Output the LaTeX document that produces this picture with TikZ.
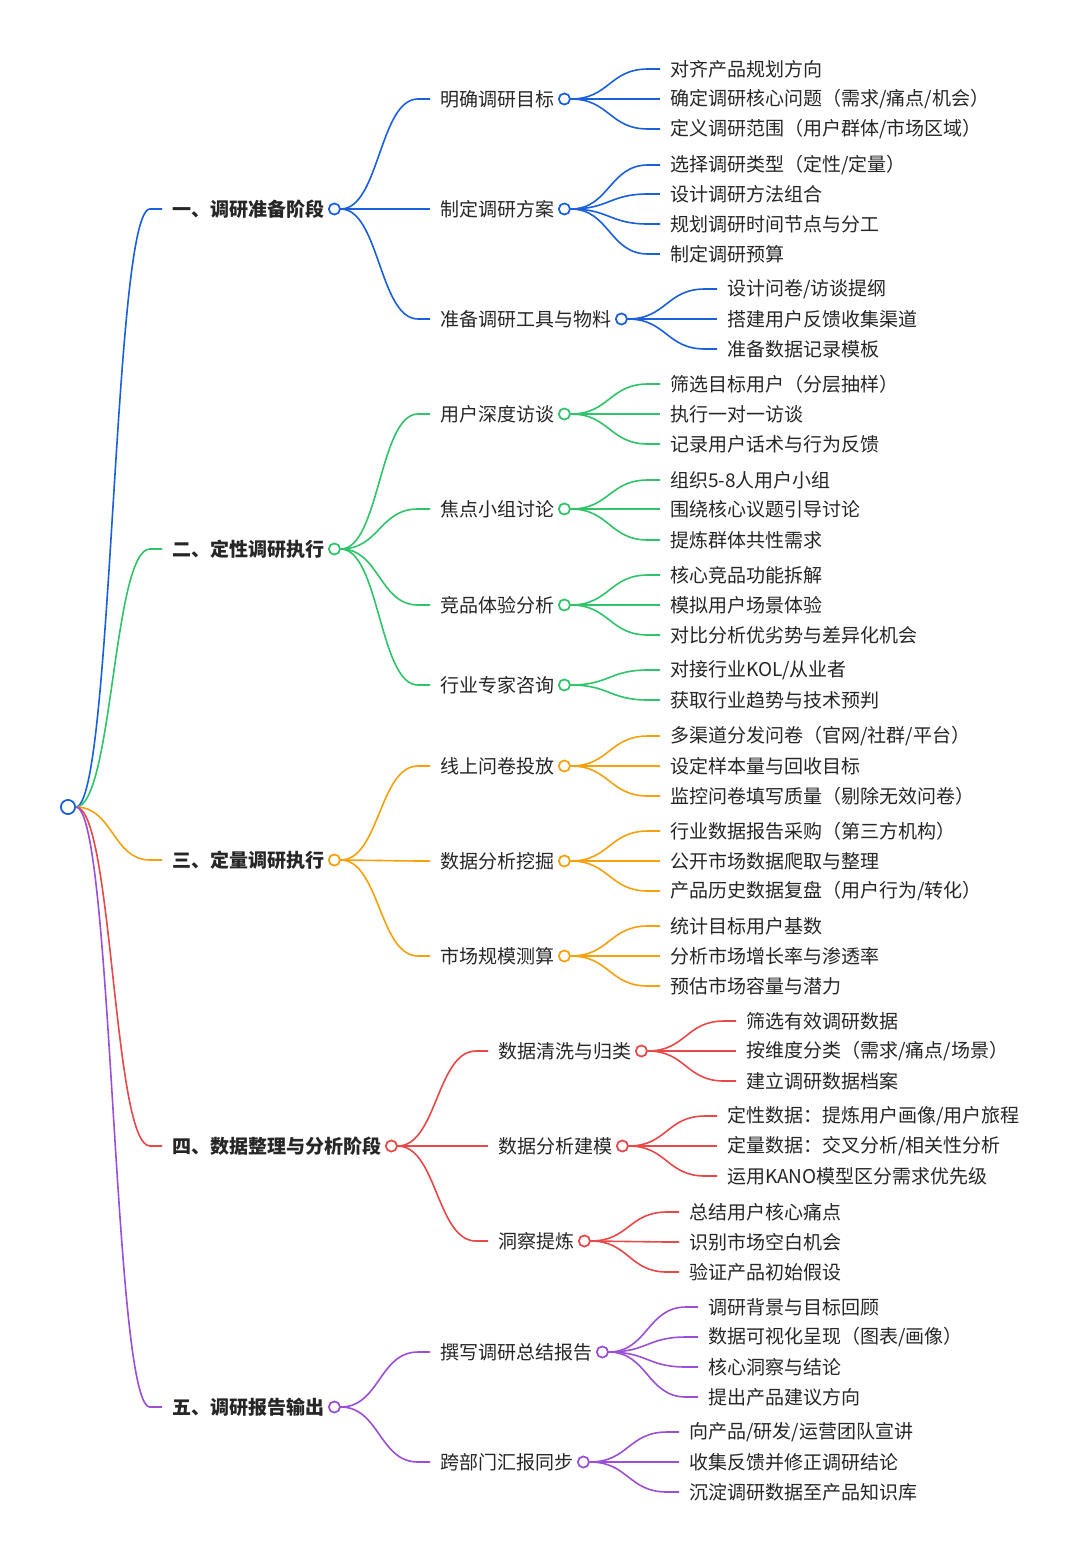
\documentclass[tikz,border=0pt]{standalone}
\usepackage{fontspec}
\setmainfont{Noto Sans CJK SC}
\usetikzlibrary{calc}
\definecolor{cb}{HTML}{1A5FDC}
\definecolor{cg}{HTML}{2FC46A}
\definecolor{co}{HTML}{F5A10C}
\definecolor{cr}{HTML}{E84848}
\definecolor{cp}{HTML}{9A4FD6}
\tikzset{txt/.style={inner sep=0pt,anchor=west,font=\fontsize{19}{21}\selectfont,text=black!85},
 dot/.style={circle,inner sep=0pt,minimum size=11pt,line width=1.6pt,fill=white},
 lnk/.style={line width=1.6pt}}
\newcommand\mmn[6]{\node[txt,font=\fontsize{19}{21}\selectfont#6] (#1) at (#2,#3) {#4};
 \node[dot,draw=#5] (#1c) at ([xshift=10pt]#1.east) {};}
\newcommand\mml[4]{\node[txt] (#1) at (#2,#3) {#4};}
\newcommand\mme[3]{\draw[lnk,#3] let \p1=(#1.east),\p2=(#2.west) in (\p1) .. controls ({0.5*\x1+0.5*\x2-11pt},\y1) and ({0.5*\x1+0.5*\x2-11pt},\y2) .. ({\x2-22pt},\y2) -- ({\x2-10pt},\y2);}
\begin{document}
\begin{tikzpicture}[x=1pt,y=-1pt]
\useasboundingbox (0,0) rectangle (1080,1561);
\fill[white] (0,0) rectangle (1080,1561);
% level 1
\mmn{a}{172}{209}{一、调研准备阶段}{cb}{\bfseries}
\mmn{b}{172}{549}{二、定性调研执行}{cg}{\bfseries}
\mmn{c}{172}{860}{三、定量调研执行}{co}{\bfseries}
\mmn{d}{172}{1146}{四、数据整理与分析阶段}{cr}{\bfseries}
\mmn{e}{172}{1407}{五、调研报告输出}{cp}{\bfseries}
% level 2
\mmn{a1}{440}{99}{明确调研目标}{cb}{}
\mmn{a2}{440}{209}{制定调研方案}{cb}{}
\mmn{a3}{440}{319}{准备调研工具与物料}{cb}{}
\mmn{b1}{440}{414}{用户深度访谈}{cg}{}
\mmn{b2}{440}{509}{焦点小组讨论}{cg}{}
\mmn{b3}{440}{605}{竞品体验分析}{cg}{}
\mmn{b4}{440}{685}{行业专家咨询}{cg}{}
\mmn{c1}{440}{766}{线上问卷投放}{co}{}
\mmn{c2}{440}{861}{数据分析挖掘}{co}{}
\mmn{c3}{440}{956}{市场规模测算}{co}{}
\mmn{d1}{498}{1051}{数据清洗与归类}{cr}{}
\mmn{d2}{498}{1146}{数据分析建模}{cr}{}
\mmn{d3}{498}{1241}{洞察提炼}{cr}{}
\mmn{e1}{440}{1352}{撰写调研总结报告}{cp}{}
\mmn{e2}{440}{1462}{跨部门汇报同步}{cp}{}
% leaves
\mml{a11}{670}{69}{对齐产品规划方向}
\mml{a12}{670}{99}{确定调研核心问题（需求/痛点/机会）}
\mml{a13}{670}{129}{定义调研范围（用户群体/市场区域）}
\mml{a21}{670}{165}{选择调研类型（定性/定量）}
\mml{a22}{670}{194}{设计调研方法组合}
\mml{a23}{670}{224}{规划调研时间节点与分工}
\mml{a24}{670}{254}{制定调研预算}
\mml{a31}{727}{289}{设计问卷/访谈提纲}
\mml{a32}{727}{319}{搭建用户反馈收集渠道}
\mml{a33}{727}{349}{准备数据记录模板}
\mml{b11}{670}{384}{筛选目标用户（分层抽样）}
\mml{b12}{670}{414}{执行一对一访谈}
\mml{b13}{670}{444}{记录用户话术与行为反馈}
\mml{b21}{670}{480}{组织5-8人用户小组}
\mml{b22}{670}{509}{围绕核心议题引导讨论}
\mml{b23}{670}{540}{提炼群体共性需求}
\mml{b31}{670}{575}{核心竞品功能拆解}
\mml{b32}{670}{605}{模拟用户场景体验}
\mml{b33}{670}{635}{对比分析优劣势与差异化机会}
\mml{b41}{670}{670}{对接行业KOL/从业者}
\mml{b42}{670}{700}{获取行业趋势与技术预判}
\mml{c11}{670}{736}{多渠道分发问卷（官网/社群/平台）}
\mml{c12}{670}{766}{设定样本量与回收目标}
\mml{c13}{670}{796}{监控问卷填写质量（剔除无效问卷）}
\mml{c21}{670}{831}{行业数据报告采购（第三方机构）}
\mml{c22}{670}{861}{公开市场数据爬取与整理}
\mml{c23}{670}{891}{产品历史数据复盘（用户行为/转化）}
\mml{c31}{670}{926}{统计目标用户基数}
\mml{c32}{670}{956}{分析市场增长率与渗透率}
\mml{c33}{670}{986}{预估市场容量与潜力}
\mml{d11}{746}{1021}{筛选有效调研数据}
\mml{d12}{746}{1051}{按维度分类（需求/痛点/场景）}
\mml{d13}{746}{1081}{建立调研数据档案}
\mml{d21}{727}{1116}{定性数据：提炼用户画像/用户旅程}
\mml{d22}{727}{1146}{定量数据：交叉分析/相关性分析}
\mml{d23}{727}{1176}{运用KANO模型区分需求优先级}
\mml{d31}{689}{1212}{总结用户核心痛点}
\mml{d32}{689}{1242}{识别市场空白机会}
\mml{d33}{689}{1272}{验证产品初始假设}
\mml{e11}{708}{1307}{调研背景与目标回顾}
\mml{e12}{708}{1337}{数据可视化呈现（图表/画像）}
\mml{e13}{708}{1367}{核心洞察与结论}
\mml{e14}{708}{1397}{提出产品建议方向}
\mml{e21}{689}{1432}{向产品/研发/运营团队宣讲}
\mml{e22}{689}{1462}{收集反馈并修正调研结论}
\mml{e23}{689}{1492}{沉淀调研数据至产品知识库}
% root
\node[dot,minimum size=14pt,draw=cb] (r) at (68,807) {};
\mme{r}{a}{cb}\mme{r}{b}{cg}\mme{r}{c}{co}\mme{r}{d}{cr}\mme{r}{e}{cp}
\foreach \k in {a1,a2,a3}{\mme{ac}{\k}{cb}}
\foreach \k in {b1,b2,b3,b4}{\mme{bc}{\k}{cg}}
\foreach \k in {c1,c2,c3}{\mme{cc}{\k}{co}}
\foreach \k in {d1,d2,d3}{\mme{dc}{\k}{cr}}
\foreach \k in {e1,e2}{\mme{ec}{\k}{cp}}
\foreach \q/\m in {a1/{a11,a12,a13},a2/{a21,a22,a23,a24},a3/{a31,a32,a33}}{\foreach \k in \m {\mme{\q c}{\k}{cb}}}
\foreach \q/\m in {b1/{b11,b12,b13},b2/{b21,b22,b23},b3/{b31,b32,b33},b4/{b41,b42}}{\foreach \k in \m {\mme{\q c}{\k}{cg}}}
\foreach \q/\m in {c1/{c11,c12,c13},c2/{c21,c22,c23},c3/{c31,c32,c33}}{\foreach \k in \m {\mme{\q c}{\k}{co}}}
\foreach \q/\m in {d1/{d11,d12,d13},d2/{d21,d22,d23},d3/{d31,d32,d33}}{\foreach \k in \m {\mme{\q c}{\k}{cr}}}
\foreach \q/\m in {e1/{e11,e12,e13,e14},e2/{e21,e22,e23}}{\foreach \k in \m {\mme{\q c}{\k}{cp}}}
% redraw dots on top
\foreach \k/\c in {a/cb,b/cg,c/co,d/cr,e/cp,a1/cb,a2/cb,a3/cb,b1/cg,b2/cg,b3/cg,b4/cg,c1/co,c2/co,c3/co,d1/cr,d2/cr,d3/cr,e1/cp,e2/cp}{\node[dot,draw=\c] at (\k c) {};}
\node[dot,minimum size=14pt,draw=cb] at (r) {};
\end{tikzpicture}
\end{document}
